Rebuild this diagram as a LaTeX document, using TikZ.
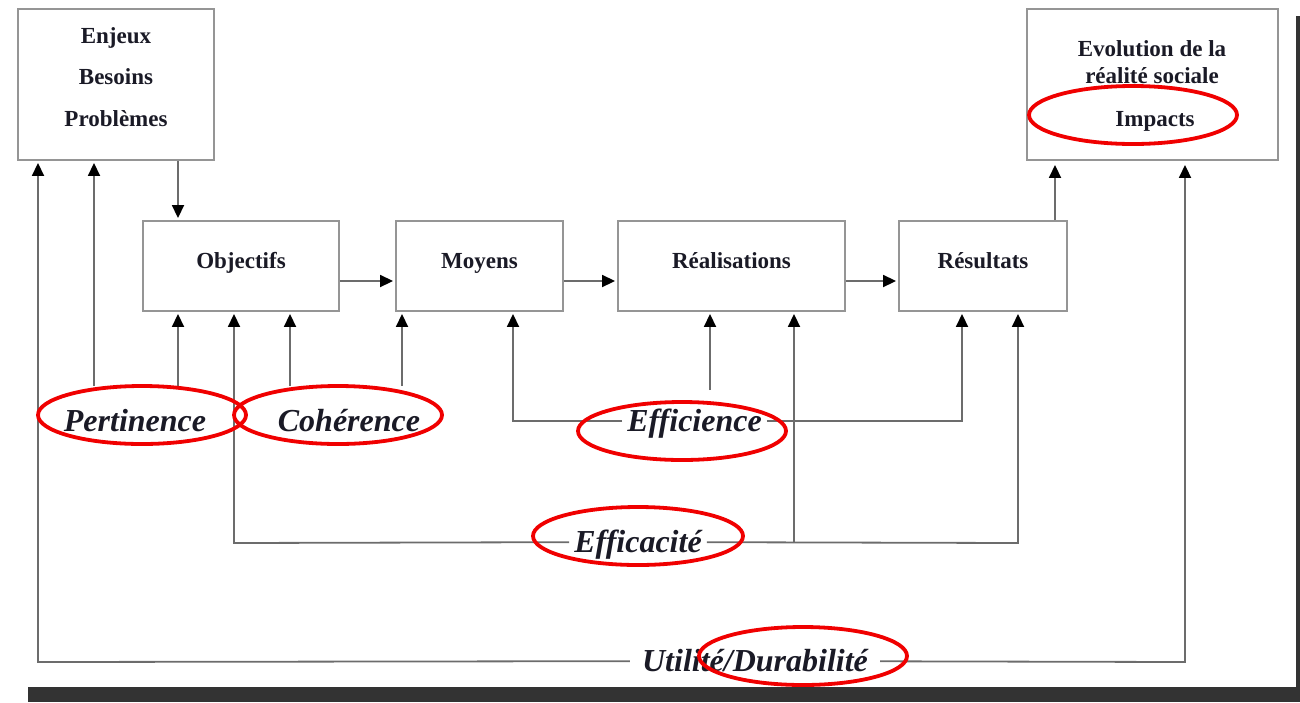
\documentclass[tikz,border=0pt]{standalone}
\usepackage{fontspec}
\setmainfont{Liberation Serif}
\usetikzlibrary{arrows.meta}
\definecolor{linegray}{HTML}{6C6C6C}
\definecolor{boxgray}{HTML}{959595}
\definecolor{ink}{HTML}{1A1A26}
\definecolor{ringred}{HTML}{F00000}
\definecolor{shadow}{HTML}{333333}
\tikzset{
  box/.style={ % framed stages of the chain
    draw=boxgray, line width=1.9pt, fill=white,
    minimum height=90pt, text height=16pt, text depth=12pt,
    font=\fontsize{23}{27}\selectfont\bfseries, text=ink},
  boxtext/.style={ % texts set inside the big boxes
    inner sep=0pt, text=ink, font=\fontsize{23}{27}\selectfont\bfseries},
  crit/.style={ % evaluation criteria
    fill=white, inner xsep=5pt, inner ysep=2pt,
    text height=22pt, text depth=1pt,
    font=\fontsize{32}{36}\selectfont\bfseries\itshape, text=ink},
  conn/.style={draw=linegray, line width=1.8pt},
  arr/.style={conn, shorten >=2pt,
    -{Triangle[length=13pt,width=12pt,color=black]}},
  ring/.style={draw=ringred, line width=3.8pt}}

\begin{document}
\begin{tikzpicture}[x=1pt,y=-1pt]
  \useasboundingbox (0,0) rectangle (1300,702);
  % shadow of the sheet
  \fill[shadow] (28,687) rectangle (1300,702);
  \fill[shadow] (1296,16) rectangle (1300,687);

  % top boxes
  \node[box, minimum width=196pt, minimum height=151pt] (enjeux) at (116,84.5) {};
  \node[boxtext, align=center, font=\fontsize{23}{41.5}\selectfont\bfseries] (enjeuxtxt) at (116,77) {Enjeux\\Besoins\\Problèmes};
  \node[box, minimum width=251pt, minimum height=151pt] (evol) at (1152.5,84.5) {};
  \node[boxtext, align=center] (evoltxt) at (1152,62) {Evolution de la\\réalité sociale};
  \node[boxtext] (impacts) at (1155,121) {Impacts};

  % middle chain
  \node[box, minimum width=196pt] (obj) at (241,266) {Objectifs};
  \node[box, minimum width=167pt] (moy) at (479.5,266) {Moyens};
  \node[box, minimum width=227pt] (real) at (731.5,266) {Réalisations};
  \node[box, minimum width=168pt] (res) at (983,266) {Résultats};

  % criteria
  \node[crit] (pert) at (135,421) {Pertinence};
  \node[crit] (coh) at (349,421) {Cohérence};
  \node[crit] (effi) at (694.5,421) {Efficience};
  \node[crit] (effa) at (638,542) {Efficacité};
  \node[crit, inner xsep=12pt] (util) at (755,661) {Utilité/Durabilité};

  % anchor points of the connectors
  \coordinate (p1) at (94,386);
  \coordinate (p2) at (178,386);
  \coordinate (c1) at (290,386);
  \coordinate (c2) at (402,386);
  \coordinate (f1) at (513,421);
  \coordinate (f2) at (710,390);
  \coordinate (f3) at (962,421);
  \coordinate (a1) at (234,543);
  \coordinate (a2) at (794,543);
  \coordinate (a3) at (1018,543);
  \coordinate (u1) at (38,662);
  \coordinate (u2) at (1185,662);
  \coordinate (up) at (1055,0);

  % chain
  \draw[arr] (enjeux.south -| p2) -- (obj.north -| p2);
  \draw[arr] ([yshift=-15pt]obj.east) -- ([yshift=-15pt]moy.west);
  \draw[arr] ([yshift=-15pt]moy.east) -- ([yshift=-15pt]real.west);
  \draw[arr] ([yshift=-15pt]real.east) -- ([yshift=-15pt]res.west);
  \draw[arr, shorten >=4pt] (res.north -| up) -- (evol.south -| up);

  % criteria links
  \draw[arr] (p1) -- (p1 |- enjeux.south);
  \draw[arr] (p2) -- (p2 |- obj.south);
  \draw[arr] (c1) -- (c1 |- obj.south);
  \draw[arr] (c2) -- (c2 |- moy.south);
  \draw[arr] (effi) -- (f1) -- (f1 |- moy.south);
  \draw[arr] (effi) -- (f3) -- (f3 |- res.south);
  \draw[arr] (f2) -- (f2 |- real.south);
  \draw[arr] (effa) -- (a1) -- (a1 |- obj.south);
  \draw[arr] (effa) -- (a3) -- (a3 |- res.south);
  \draw[arr] (a2) -- (a2 |- real.south);
  \draw[arr] (util) -- (u1) -- (u1 |- enjeux.south);
  \draw[arr, shorten >=4pt] (util) -- (u2) -- (u2 |- evol.south);

  % red rings
  \draw[ring] (1133,115) ellipse [x radius=104pt, y radius=29pt];
  \draw[ring] (142,415) ellipse [x radius=104pt, y radius=29pt];
  \draw[ring] (338,415) ellipse [x radius=104pt, y radius=29pt];
  \draw[ring] (682,431) ellipse [x radius=104pt, y radius=29pt];
  \draw[ring] (638,536) ellipse [x radius=105pt, y radius=29pt];
  \draw[ring] (803,656) ellipse [x radius=104pt, y radius=29pt];
\end{tikzpicture}
\end{document}
